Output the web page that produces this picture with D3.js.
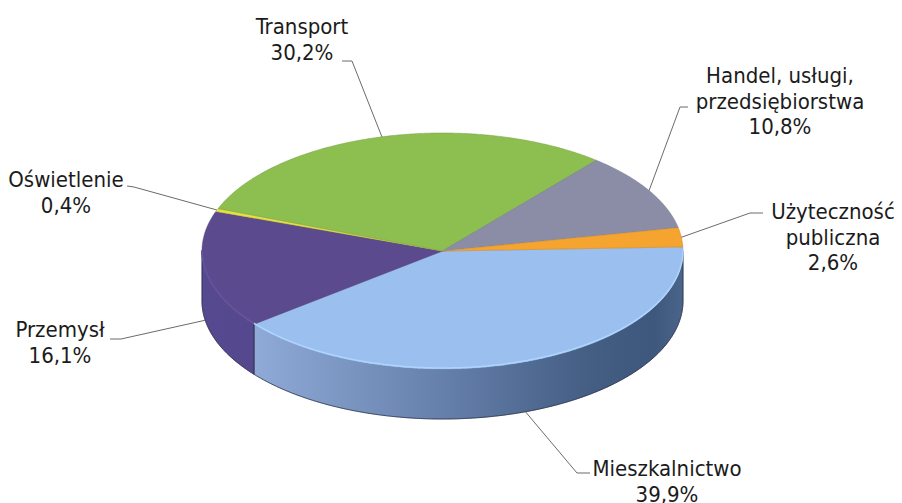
<!DOCTYPE html>
<html>
<head>
<meta charset="utf-8">
<script src="https://cdn.jsdelivr.net/npm/d3@7"></script>
<style>
  html, body { margin: 0; padding: 0; background: #ffffff; }
  svg { display: block; }
  text { font-family: "DejaVu Sans Condensed", "Liberation Sans", Arial, sans-serif; font-size: 22px; fill: #1b1b1b; }
</style>
</head>
<body>
<svg id="chart" width="902" height="503"></svg>
<script>
// Energy consumption by sector (share, %)
const categories = ["Mieszkalnictwo", "Przemysł", "Oświetlenie", "Transport", "Handel, usługi, przedsiębiorstwa", "Użyteczność publiczna"];
const shares = [39.9, 16.1, 0.4, 30.2, 10.8, 2.6];
const labelLines = [["Mieszkalnictwo"], ["Przemysł"], ["Oświetlenie"], ["Transport"], ["Handel, usługi,", "przedsiębiorstwa"], ["Użyteczność", "publiczna"]];

// Slice colours (top face) and side shading
const topColors = ["#9bbfee", "#5b4b8e", "#e8e23e", "#8dbe50", "#8b8da7", "#f5a430"];
const sideStops = [
  [[0, "#a6bee6"], [0.12, "#8fa9d6"], [0.5, "#6580ab"], [0.8, "#445e84"], [0.94, "#3e577c"], [1, "#4b6489"]],
  [[0, "#564990"], [1, "#4b3f82"]],
  [[0, "#c9c430"], [1, "#c9c430"]],
  [[0, "#6f9a3c"], [1, "#6f9a3c"]],
  [[0, "#6c6e88"], [1, "#6c6e88"]],
  [[0, "#d08a22"], [1, "#d08a22"]]
];

// Label placement: text anchor (middle), first baseline, and leader elbow points
const labelPos = [
  { x: 667, y: 476, leader: [[590, 473], [577, 473]] },
  { x: 60, y: 337, leader: [[110, 339], [121, 339]] },
  { x: 66, y: 187, leader: [[127, 186], [134, 187]] },
  { x: 302, y: 34, leader: [[342, 61], [352, 61]] },
  { x: 780, y: 83, leader: [[688, 107], [680, 107]] },
  { x: 833, y: 219, leader: [[763, 213], [750, 213]] }
];

// Pie geometry
const cx = 442.5, cy = 251, rx = 240.5, ry = 118, depth = 50;
const startDeg = 88;
const lineGap = 25.5;

const svg = d3.select("#chart");
const defs = svg.append("defs");

const fmt = d3.formatLocale({ decimal: ",", thousands: " ", grouping: [3], currency: ["", " zł"] }).format(".1f");

// unit circle -> screen
const sx = d3.scaleLinear().domain([-1, 1]).range([cx - rx, cx + rx]);
const sy = d3.scaleLinear().domain([-1, 1]).range([cy - ry, cy + ry]);
const pt = (a, dy = 0) => [sx(Math.sin(a)), sy(-Math.cos(a)) + dy];

const start = startDeg * Math.PI / 180;
const pie = d3.pie().sort(null).value(d => d).startAngle(start).endAngle(start + 2 * Math.PI);
const arcs = pie(shares);

const line = d3.line();
const step = Math.PI / 360;

function arcPoints(a0, a1, dy) {
  const pts = [];
  const n = Math.max(2, Math.ceil((a1 - a0) / step));
  for (let i = 0; i <= n; i++) pts.push(pt(a0 + (a1 - a0) * i / n, dy));
  return pts;
}

// Visible (front-facing) angle ranges of a slice side
function frontRanges(a0, a1) {
  const out = [];
  for (let k = -1; k <= 1; k++) {
    const lo = Math.PI / 2 + k * 2 * Math.PI, hi = 3 * Math.PI / 2 + k * 2 * Math.PI;
    const s = Math.max(a0, lo), e = Math.min(a1, hi);
    if (e > s) out.push([s, e]);
  }
  return out;
}

// side gradients
sideStops.forEach((stops, i) => {
  const g = defs.append("linearGradient")
    .attr("id", "side" + i)
    .attr("gradientUnits", "userSpaceOnUse")
    .attr("x1", cx - rx).attr("x2", cx + rx).attr("y1", 0).attr("y2", 0);
  stops.forEach(([o, c]) => g.append("stop").attr("offset", o).attr("stop-color", c));
});

// side walls: fill, then outline only the lower rim and the vertical ends
const sides = svg.append("g");
arcs.forEach((d, i) => {
  frontRanges(d.startAngle, d.endAngle).forEach(([s, e]) => {
    const pts = arcPoints(s, e, 0).concat(arcPoints(s, e, depth).reverse());
    sides.append("path")
      .attr("d", line(pts) + "Z")
      .attr("fill", `url(#side${i})`)
      .attr("stroke", `url(#side${i})`)
      .attr("stroke-width", 0.5);
    const edge = [pt(e, 0)].concat(arcPoints(s, e, depth).reverse(), [pt(s, 0)]);
    sides.append("path")
      .attr("d", line(edge))
      .attr("fill", "none")
      .attr("stroke", "#2b2f45")
      .attr("stroke-width", 0.8)
      .attr("stroke-linejoin", "round");
  });
});

// top faces
const tops = svg.append("g");
arcs.forEach((d, i) => {
  const pts = [[cx, cy]].concat(arcPoints(d.startAngle, d.endAngle, 0));
  tops.append("path")
    .attr("d", line(pts) + "Z")
    .attr("fill", topColors[i])
    .attr("stroke", d3.color(topColors[i]).darker(0.5))
    .attr("stroke-width", 0.5)
    .attr("stroke-linejoin", "round");
});

// soft highlight along the front rim of the top face
arcs.forEach((d, i) => {
  frontRanges(d.startAngle, d.endAngle).forEach(([s, e]) => {
    tops.append("path")
      .attr("d", line(arcPoints(s, e, -1)))
      .attr("fill", "none")
      .attr("stroke", d3.color(topColors[i]).brighter(0.3))
      .attr("stroke-width", 1.5);
  });
});

// leader lines
const leaders = svg.append("g");
arcs.forEach((d, i) => {
  const mid = (d.startAngle + d.endAngle) / 2;
  const m = ((mid % (2 * Math.PI)) + 2 * Math.PI) % (2 * Math.PI);
  const front = m > Math.PI / 2 && m < 3 * Math.PI / 2;
  const anchor = pt(mid, front ? depth : 0);
  leaders.append("path")
    .attr("d", line(labelPos[i].leader.concat([anchor])))
    .attr("fill", "none")
    .attr("stroke", "#5a5a5a")
    .attr("stroke-width", 0.9);
});

// labels
const labels = svg.append("g");
arcs.forEach((d, i) => {
  const t = labels.append("text").attr("text-anchor", "middle");
  const lines = labelLines[i].concat([fmt(shares[i]) + "%"]);
  lines.forEach((s, j) => {
    t.append("tspan").attr("x", labelPos[i].x).attr("y", labelPos[i].y + j * lineGap).text(s);
  });
});
</script>
</body>
</html>
